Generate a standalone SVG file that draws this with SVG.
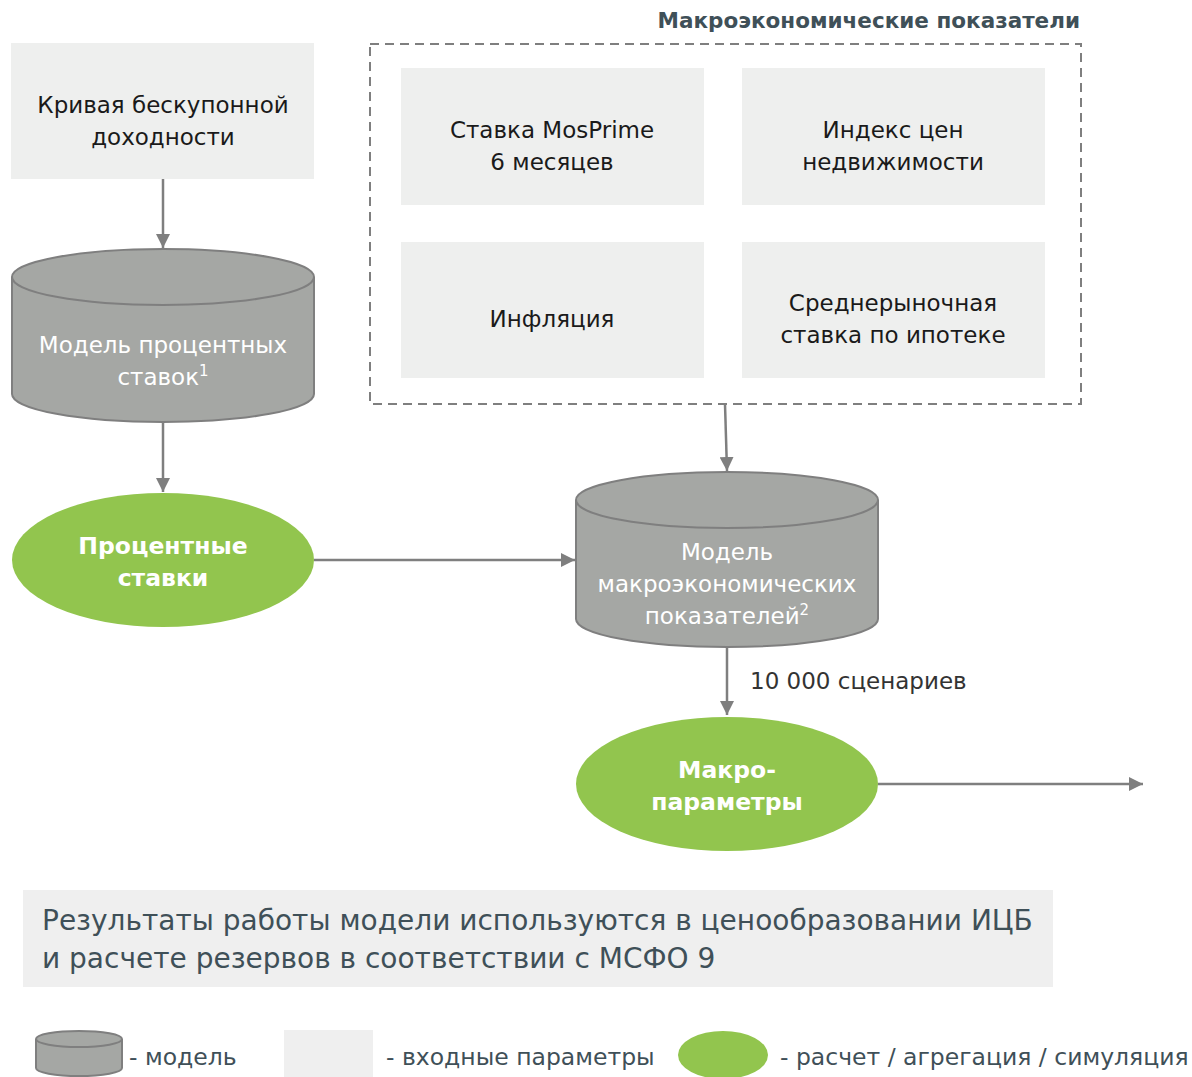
<svg xmlns="http://www.w3.org/2000/svg" width="1192" height="1077" viewBox="0 0 1192 1077">
<defs>
<marker id="ah" viewBox="0 0 10 10" refX="10" refY="5" markerWidth="14" markerHeight="14" markerUnits="userSpaceOnUse" orient="auto"><path d="M0,0 L10,5 L0,10 z" fill="#7f7f7f"/></marker>
<style>
.t{font-family:"DejaVu Sans","Liberation Sans",sans-serif;}
.box{fill:#eeefee;}
.cyl{fill:#a5a7a4;stroke:#7f7f7f;stroke-width:2;}
.ell{fill:#92c54e;}
.dark{fill:#1a1a1a;font-size:23px;}
.wt{fill:#ffffff;font-size:23px;}
.wb{fill:#ffffff;font-size:23.5px;font-weight:bold;}
.con{stroke:#7f7f7f;stroke-width:2.5;fill:none;marker-end:url(#ah);}
.slate{fill:#3f5058;}
</style>
</defs>
<rect width="1192" height="1077" fill="#ffffff"/>

<g id="macro-group">
<rect x="370" y="44" width="711" height="360" fill="none" stroke="#7f7f7f" stroke-width="2" stroke-dasharray="9,6"/>
<text class="t slate" x="1080" y="28" font-size="21.5" font-weight="bold" text-anchor="end">Макроэкономические показатели</text>
</g>

<g id="yield-curve">
<rect class="box" x="11" y="43" width="303" height="136"/>
<text class="t dark" x="163" y="113" text-anchor="middle">Кривая бескупонной</text>
<text class="t dark" x="163" y="145" text-anchor="middle">доходности</text>
</g>

<g id="mosprime">
<rect class="box" x="401" y="68" width="303" height="137"/>
<text class="t dark" x="552" y="138" text-anchor="middle">Ставка MosPrime</text>
<text class="t dark" x="552" y="170" text-anchor="middle">6 месяцев</text>
</g>
<g id="realty-index">
<rect class="box" x="742" y="68" width="303" height="137"/>
<text class="t dark" x="893" y="138" text-anchor="middle">Индекс цен</text>
<text class="t dark" x="893" y="170" text-anchor="middle">недвижимости</text>
</g>
<g id="inflation">
<rect class="box" x="401" y="242" width="303" height="136"/>
<text class="t dark" x="552" y="327" text-anchor="middle">Инфляция</text>
</g>
<g id="mortgage-rate">
<rect class="box" x="742" y="242" width="303" height="136"/>
<text class="t dark" x="893" y="311" text-anchor="middle">Среднерыночная</text>
<text class="t dark" x="893" y="343" text-anchor="middle">ставка по ипотеке</text>
</g>

<g id="rate-model">
<path class="cyl" d="M12,277 L12,394 A151,28 0 0 0 314,394 L314,277 A151,28 0 0 0 12,277 Z"/>
<path class="cyl" d="M12,277 A151,28 0 0 0 314,277" fill="none"/>
<text class="t wt" x="163" y="353" text-anchor="middle">Модель процентных</text>
<text class="t wt" x="163" y="385" text-anchor="middle">ставок<tspan font-size="15" dy="-9">1</tspan></text>
</g>

<g id="rates">
<ellipse class="ell" cx="163" cy="560" rx="151" ry="67"/>
<text class="t wb" x="163" y="554" text-anchor="middle">Процентные</text>
<text class="t wb" x="163" y="586" text-anchor="middle">ставки</text>
</g>

<g id="macro-model">
<path class="cyl" d="M576,500 L576,619 A151,28 0 0 0 878,619 L878,500 A151,28 0 0 0 576,500 Z"/>
<path class="cyl" d="M576,500 A151,28 0 0 0 878,500" fill="none"/>
<text class="t wt" x="727" y="560" text-anchor="middle">Модель</text>
<text class="t wt" x="727" y="592" text-anchor="middle">макроэкономических</text>
<text class="t wt" x="727" y="624" text-anchor="middle">показателей<tspan font-size="15" dy="-9">2</tspan></text>
</g>

<g id="macro-params">
<ellipse class="ell" cx="727" cy="784" rx="151" ry="67"/>
<text class="t wb" x="727" y="778" text-anchor="middle">Макро-</text>
<text class="t wb" x="727" y="810" text-anchor="middle">параметры</text>
</g>

<g id="connectors">
<line class="con" x1="163" y1="179" x2="163" y2="248"/>
<line class="con" x1="163" y1="422" x2="163" y2="492"/>
<line class="con" x1="314" y1="560" x2="575" y2="560"/>
<line class="con" x1="725" y1="404" x2="727" y2="471"/>
<line class="con" x1="727" y1="647" x2="727" y2="715"/>
<line class="con" x1="878" y1="784" x2="1143" y2="784"/>
<text class="t" x="750" y="689" font-size="23" fill="#333333">10 000 сценариев</text>
</g>

<g id="result-note">
<rect x="23" y="890" width="1030" height="97" fill="#efefef"/>
<text class="t slate" x="42" y="930" font-size="28">Результаты работы модели используются в ценообразовании ИЦБ</text>
<text class="t slate" x="42" y="968" font-size="28">и расчете резервов в соответствии с МСФО 9</text>
</g>

<g id="legend">
<path class="cyl" d="M36,1039 L36,1068 A43,8 0 0 0 122,1068 L122,1039 A43,8 0 0 0 36,1039 Z"/>
<path class="cyl" d="M36,1039 A43,8 0 0 0 122,1039" fill="none"/>
<text class="t slate" x="129" y="1065" font-size="23.5">- модель</text>
<rect x="284" y="1030" width="89" height="47" fill="#efefef"/>
<text class="t slate" x="386" y="1065" font-size="23.5">- входные параметры</text>
<ellipse class="ell" cx="723" cy="1055" rx="45" ry="24"/>
<text class="t slate" x="780" y="1065" font-size="23.5">- расчет / агрегация / симуляция</text>
</g>
</svg>
